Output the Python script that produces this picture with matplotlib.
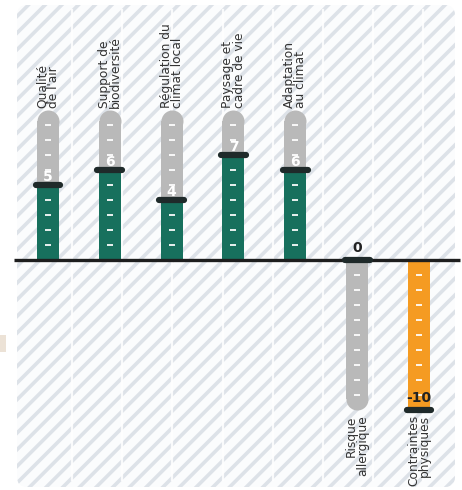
import matplotlib
matplotlib.use("Agg")
import matplotlib.pyplot as plt
import numpy as np
from matplotlib.patches import FancyBboxPatch, Rectangle

# ---- data ----
labels = ["Qualité\nde l'air", "Support de\nbiodiversité", "Régulation du\nclimat local",
          "Paysage et\ncadre de vie", "Adaptation\nau climat", "Risque\nallergique",
          "Contraintes\nphysiques"]
values = [5, 6, 4, 7, 6, 0, -10]
value_labels = ["5", "6", "4", "7", "6", "0", "-10"]
scale_max = 10

# ---- style ----
GREEN = "#17705d"
ORANGE = "#f59b22"
TRACK = "#b9b9b9"
CAP = "#1f2a2a"
STRIPE = "#dde2e8"
TEXT = "#333333"

W, H, DPI = 462, 490, 100
X_PX = 61.83      # pixels per category
Y_PX = 15.0       # pixels per unit value
X0_PX = 48        # pixel x of first bar
Y0_PX = 260       # pixel y of zero line

plt.rcParams['hatch.linewidth'] = 2.6
fig = plt.figure(figsize=(W / DPI, H / DPI), dpi=DPI)
fig.patch.set_facecolor("white")

# background hatched panel (in inches)
panel = FancyBboxPatch((17 / DPI, 3 / DPI), (455 - 17) / DPI, (485 - 3) / DPI,
                       boxstyle="round,pad=0,rounding_size=0.1",
                       transform=fig.dpi_scale_trans, facecolor="#fbfcfd",
                       edgecolor=STRIPE, linewidth=0, hatch="//", zorder=-2)
fig.patches.append(panel)
fig.patches.append(Rectangle((0, (490 - 352) / DPI), 6 / DPI, 17 / DPI,
                             transform=fig.dpi_scale_trans, facecolor="#ece2d6",
                             edgecolor="none", zorder=-2))

ax = fig.add_axes([0, 0, 1, 1])
ax.set_facecolor("none")
ax.set_xlim(-X0_PX / X_PX, (W - X0_PX) / X_PX)
ax.set_ylim(-(H - Y0_PX) / Y_PX, Y0_PX / Y_PX)
ax.axis("off")

# faint white column lines of the background
for gx in np.linspace(0.39, 6.07, 8):
    ax.axvline(gx, ymin=0.02, ymax=0.98, color="white", lw=1.6, alpha=0.85, zorder=1)

bw = 22 / X_PX
r_y = (22 / 2) / Y_PX
x = np.arange(len(values))
for i, v in enumerate(values):
    sign = 1 if i < 5 else -1
    end = sign * (scale_max - r_y)
    # grey track
    ax.bar(x[i], end, width=bw, color=TRACK, zorder=2, linewidth=0)
    ax.plot([x[i]], [end], marker="o", markersize=22 * 72 / DPI, color=TRACK,
            markeredgewidth=0, zorder=2)
    # fill
    if v != 0:
        ax.bar(x[i], v, width=bw, color=GREEN if v > 0 else ORANGE, zorder=3, linewidth=0)
    # tick dashes
    for k in range(1, scale_max):
        ax.plot([x[i]], [sign * k], marker="_", markersize=5, markeredgewidth=1.4,
                color="white", alpha=0.9, zorder=4)
    # cap
    ax.plot([x[i] - 0.2, x[i] + 0.2], [v, v], lw=4.5, color=CAP,
            solid_capstyle="round", zorder=6)
    # value label
    if v > 0:
        ax.text(x[i], v + 0.05, value_labels[i], ha="center", va="bottom",
                fontsize=10, fontweight="bold", color="white", zorder=7)
    else:
        ax.text(x[i], v + 0.3, value_labels[i], ha="center", va="bottom",
                fontsize=10, fontweight="bold", color="#222222", zorder=7)
    # category label
    if sign > 0:
        ax.text(x[i], scale_max + 0.15, labels[i], rotation=90, ha="center", va="bottom",
                multialignment="left", fontsize=8.8, color=TEXT, linespacing=0.82, zorder=7)
    else:
        ax.text(x[i], -scale_max - 0.35, labels[i], rotation=90, ha="center", va="top",
                multialignment="right", fontsize=8.8, color=TEXT, linespacing=0.82, zorder=7)

# zero baseline
ax.plot([-34 / X_PX, (460 - X0_PX) / X_PX], [0, 0], color="#1e1e1e", lw=2.4,
        solid_capstyle="butt", zorder=5)

fig.savefig("out.png", dpi=DPI, facecolor="white")
